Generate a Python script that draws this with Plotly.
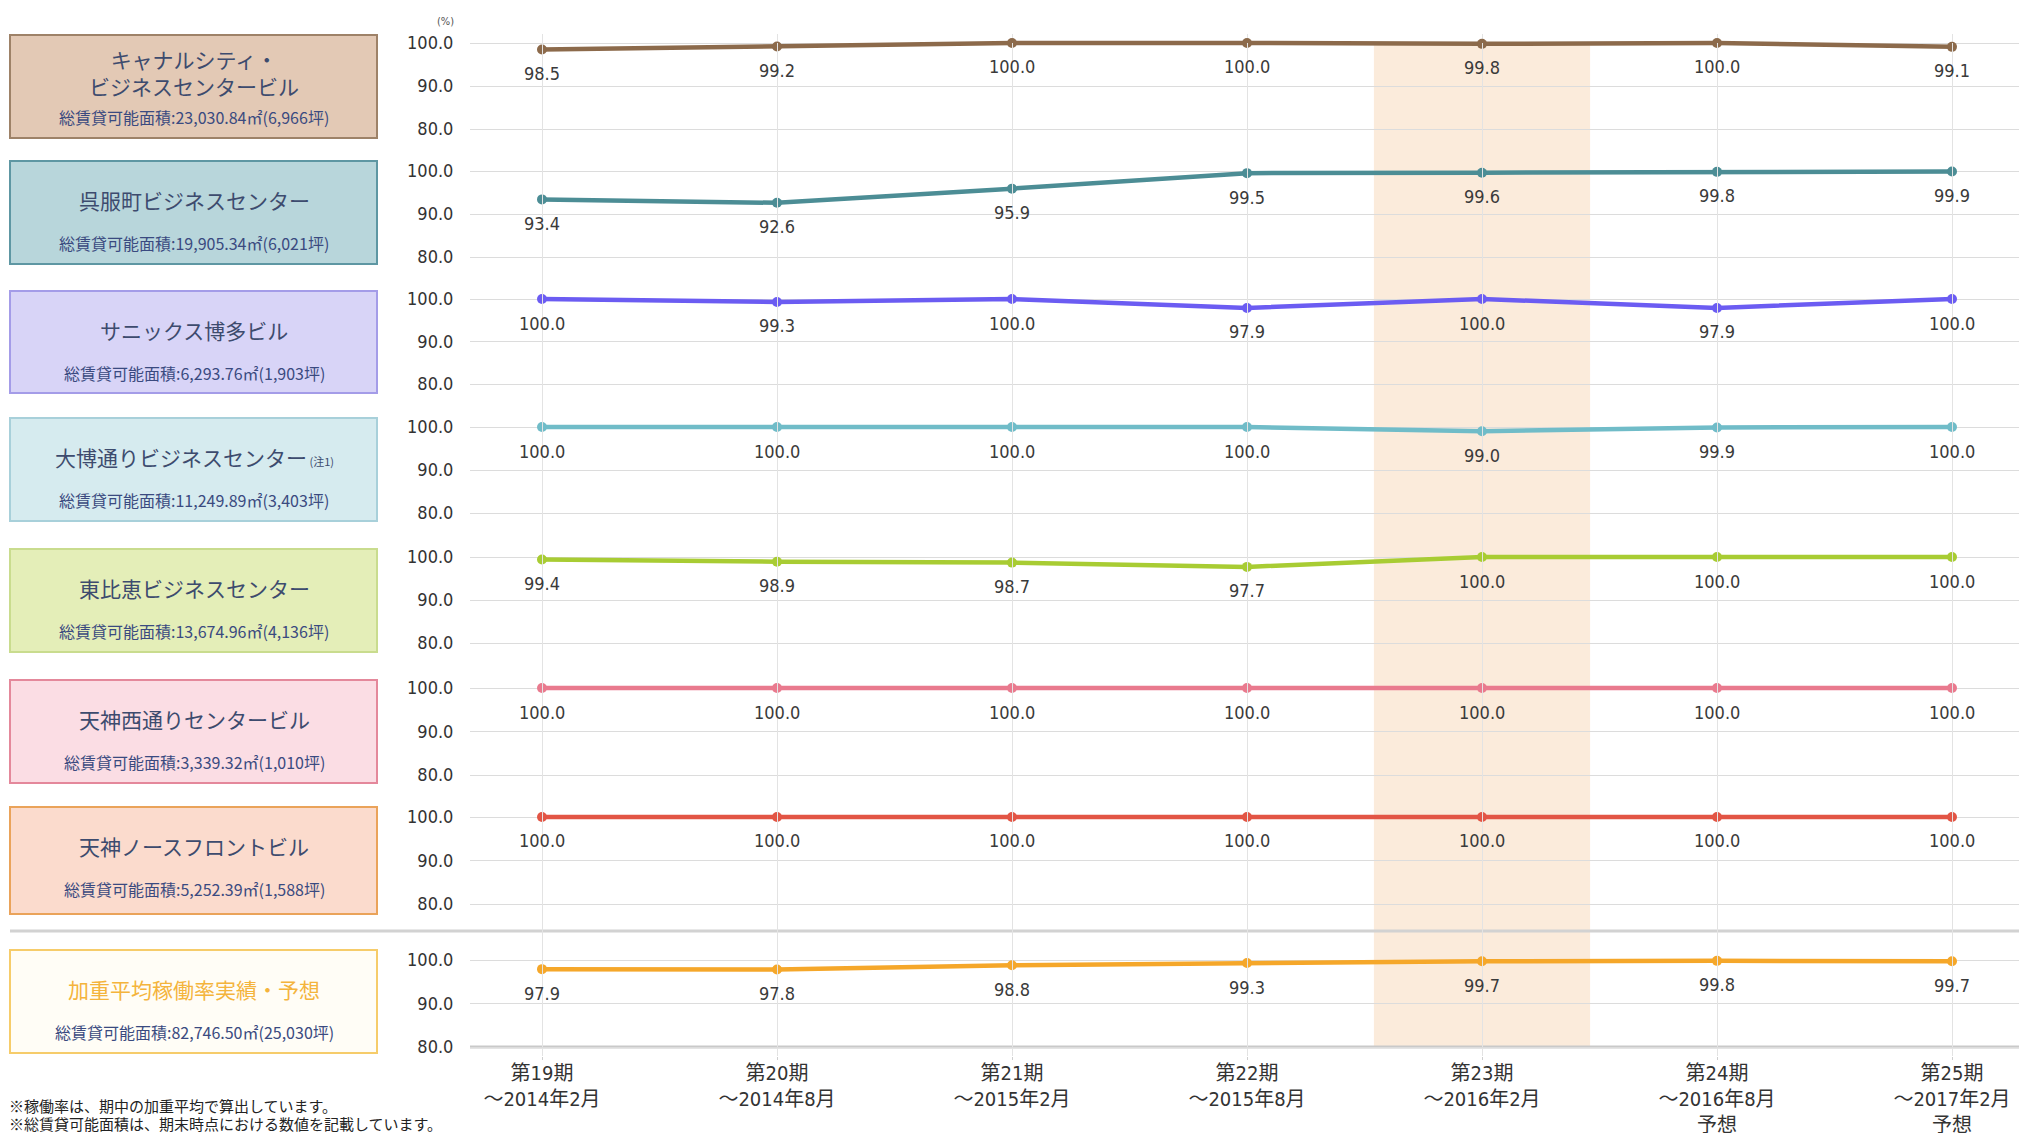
import plotly.graph_objects as go

W, H = 2019, 1133

periods = ["第19期<br>～2014年2月", "第20期<br>～2014年8月", "第21期<br>～2015年2月",
           "第22期<br>～2015年8月", "第23期<br>～2016年2月", "第24期<br>～2016年8月<br>予想",
           "第25期<br>～2017年2月<br>予想"]

canal_city = [98.5, 99.2, 100.0, 100.0, 99.8, 100.0, 99.1]
gofukumachi = [93.4, 92.6, 95.9, 99.5, 99.6, 99.8, 99.9]
sanix_hakata = [100.0, 99.3, 100.0, 97.9, 100.0, 97.9, 100.0]
taihaku_dori = [100.0, 100.0, 100.0, 100.0, 99.0, 99.9, 100.0]
higashi_hie = [99.4, 98.9, 98.7, 97.7, 100.0, 100.0, 100.0]
tenjin_nishidori = [100.0, 100.0, 100.0, 100.0, 100.0, 100.0, 100.0]
tenjin_north_front = [100.0, 100.0, 100.0, 100.0, 100.0, 100.0, 100.0]
weighted_average = [97.9, 97.8, 98.8, 99.3, 99.7, 99.8, 99.7]

titles = ["キャナルシティ・<br>ビジネスセンタービル", "呉服町ビジネスセンター", "サニックス博多ビル",
          "大博通りビジネスセンター<span style='font-size:11px'> (注1)</span>", "東比恵ビジネスセンター",
          "天神西通りセンタービル", "天神ノースフロントビル", "加重平均稼働率実績・予想"]
areas = ["総賃貸可能面積:23,030.84㎡(6,966坪)", "総賃貸可能面積:19,905.34㎡(6,021坪)",
         "総賃貸可能面積:6,293.76㎡(1,903坪)", "総賃貸可能面積:11,249.89㎡(3,403坪)",
         "総賃貸可能面積:13,674.96㎡(4,136坪)", "総賃貸可能面積:3,339.32㎡(1,010坪)",
         "総賃貸可能面積:5,252.39㎡(1,588坪)", "総賃貸可能面積:82,746.50㎡(25,030坪)"]
y_ticks = [80, 90, 100]
highlight_period = 4

series = [canal_city, gofukumachi, sanix_hakata, taihaku_dori, higashi_hie,
          tenjin_nishidori, tenjin_north_front, weighted_average]

line_colors = ["#8C6A4B", "#4C8D95", "#6B5CF2", "#70BCC8", "#A8CC33", "#E97A8E", "#E25545", "#F5A72A"]
box_fill = ["#E3C9B5", "#B8D6DB", "#D8D4F7", "#D6EBEF", "#E4EEB8", "#FBDDE4", "#FBDBCD", "#FFFDF6"]
box_line = ["#9E8268", "#5E97A3", "#A49CE8", "#A8D0DA", "#C9DC8E", "#E4889B", "#EAA35A", "#F6CC6A"]
title_colors = ["#3D4B6E"] * 7 + ["#F4B43C"]

# pixel layout (top=100 line, bottom=80 line)
panels = [(43, 129), (171, 257), (299, 384), (427, 513), (557, 643), (688, 775), (817, 904), (960, 1047)]
boxes = [(35, 138), (161, 264), (291, 393), (418, 521), (549, 652), (680, 783), (807, 914), (950, 1053)]

NUM_FONT = "Liberation Sans Narrow, Arial Narrow, DejaVu Sans Condensed, sans-serif"
JP_FONT = "Noto Sans CJK JP"
PAD = 2.0  # range padding (units) so lines at 100 are not clipped

def py(p):
    return 1 - p / H

fig = go.Figure()
xs = list(range(len(periods)))

layout = dict(width=W, height=H, margin=dict(l=0, r=0, t=0, b=0, pad=0, autoexpand=False), autosize=False,
              paper_bgcolor="white", plot_bgcolor="rgba(0,0,0,0)", showlegend=False)

x_left = 470
x0_px, dx_px = 542, 235
layout["xaxis"] = dict(domain=[x_left / W, 1], range=[(x_left - x0_px) / dx_px, (W - x0_px) / dx_px],
                       tickvals=xs, ticktext=periods, showgrid=True, gridcolor="#E3E3E3", gridwidth=1,
                       zeroline=False, showline=False, automargin=False,
                       ticks="outside", ticklen=3, tickcolor="#CFCFCF", anchor="y8", ticklabelstandoff=-4,
                       tickfont=dict(family=NUM_FONT + ", " + JP_FONT, size=20, color="#333"))

annotations = []
shapes = []
for k, (vals, col) in enumerate(zip(series, line_colors)):
    yname = "y" if k == 0 else f"y{k + 1}"
    lname = "yaxis" if k == 0 else f"yaxis{k + 1}"
    top, bot = panels[k]
    ppu = (bot - top) / 20.0
    layout[lname] = dict(domain=[py(bot + PAD * ppu), py(top - PAD * ppu)], range=[80 - PAD, 100 + PAD],
                         tickvals=y_ticks, tickformat=".1f", automargin=False,
                         showgrid=True, gridcolor="#DCDCDC", gridwidth=1, zeroline=False, showline=False,
                         ticks="outside", ticklen=12, tickcolor="rgba(0,0,0,0)", anchor="x",
                         tickfont=dict(family=NUM_FONT, size=18, color="#333"))
    fig.add_trace(go.Scatter(x=xs, y=vals, xaxis="x", yaxis=yname, mode="lines+markers",
                             line=dict(color=col, width=4.5), marker=dict(color=col, size=10),
                             cliponaxis=False, hoverinfo="skip"))
    for i, v in enumerate(vals):
        annotations.append(dict(x=i, y=v, xref="x", yref=yname, text=f"{v:.1f}", showarrow=False,
                                yshift=-24, font=dict(family=NUM_FONT, size=18, color="#3A3A3A")))
    # label box
    bt, bb = boxes[k]
    shapes.append(dict(type="rect", xref="paper", yref="paper", x0=10 / W, x1=377 / W, y0=py(bb), y1=py(bt),
                       fillcolor=box_fill[k], line=dict(color=box_line[k], width=2), layer="below"))
    cx = 194 / W
    ty = bt + (37.5 if k == 0 else 39)
    annotations.append(dict(x=cx, y=py(ty), xref="paper", yref="paper", text=titles[k],
                            xanchor="center", yanchor="middle", showarrow=False,
                            font=dict(family=JP_FONT, size=21, color=title_colors[k])))
    annotations.append(dict(x=cx, y=py(bt + 82), xref="paper", yref="paper", text=areas[k],
                            xanchor="center", yanchor="middle", showarrow=False,
                            font=dict(family=JP_FONT, size=16, color="#3A4A80")))

# bottom axis line of the last panel
shapes.append(dict(type="line", xref="paper", yref="y8", x0=x_left / W, x1=1, y0=80, y1=80,
                   line=dict(color="#C9C9C9", width=3), layer="below"))

# full-height helper axis so the vertical grid runs continuously
layout["yaxis9"] = dict(domain=[py(1047), py(43)], range=[0, 1], visible=False, showgrid=False,
                        anchor="x", automargin=False)
fig.add_trace(go.Scatter(x=[None], y=[None], xaxis="x", yaxis="y9", hoverinfo="skip", showlegend=False))

# highlighted period band
shapes.insert(0, dict(type="rect", xref="x", yref="paper", x0=highlight_period - 0.46, x1=highlight_period + 0.46,
                      y0=py(1047), y1=py(43), fillcolor="#FBEBDB", line=dict(width=0), layer="below"))
# separator
shapes.append(dict(type="line", xref="paper", yref="paper", x0=10 / W, x1=1, y0=py(931), y1=py(931),
                   line=dict(color="#D2D2D2", width=3), layer="below"))

annotations.append(dict(x=445 / W, y=py(21), xref="paper", yref="paper", text="(%)", showarrow=False,
                        xanchor="center", yanchor="middle", font=dict(family=NUM_FONT, size=11, color="#555")))
annotations.append(dict(x=7 / W, y=py(1105), xref="paper", yref="paper", xanchor="left", yanchor="middle",
                        text="※稼働率は、期中の加重平均で算出しています。", showarrow=False,
                        font=dict(family=JP_FONT, size=15, color="#222")))
annotations.append(dict(x=7 / W, y=py(1123), xref="paper", yref="paper", xanchor="left", yanchor="middle",
                        text="※総賃貸可能面積は、期末時点における数値を記載しています。", showarrow=False,
                        font=dict(family=JP_FONT, size=15, color="#222")))

layout["annotations"] = annotations
layout["shapes"] = shapes
fig.update_layout(**layout)
fig.write_html("out.html")
